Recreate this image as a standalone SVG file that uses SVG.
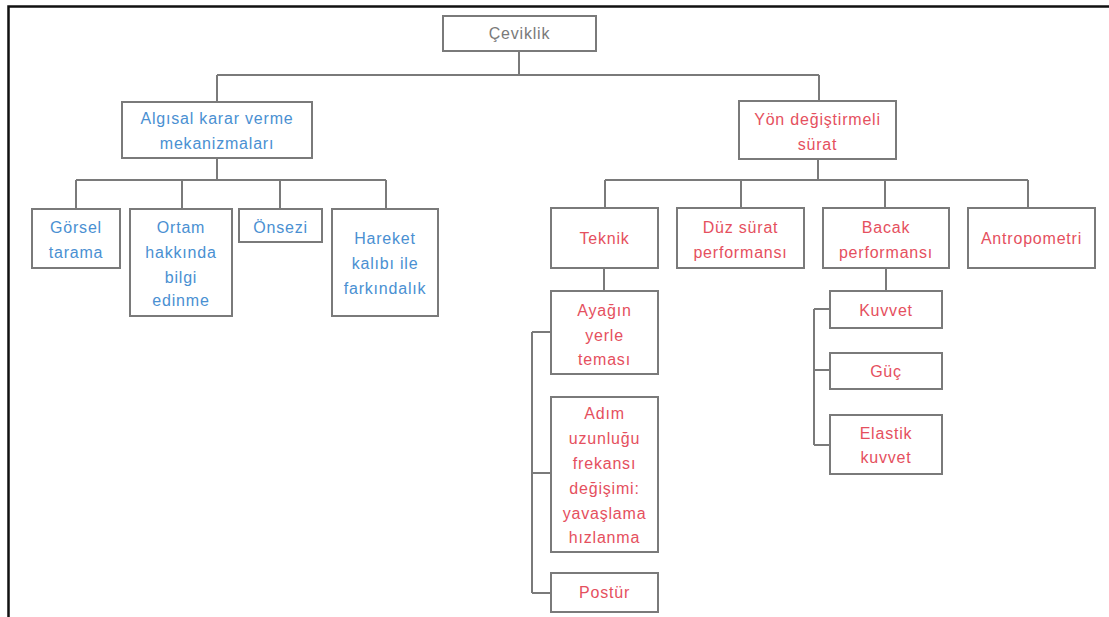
<svg xmlns="http://www.w3.org/2000/svg" width="1109" height="617" viewBox="0 0 1109 617">
<style>
.box{fill:#fff;stroke:#7a7a7a;stroke-width:2}
.con{fill:none;stroke:#7a7a7a;stroke-width:2}
text{font-family:"Liberation Sans",Arial,sans-serif;font-size:16px;letter-spacing:0.8px;text-anchor:middle;dominant-baseline:central}
.root{fill:#7a7a7a}
.blue{fill:#4a90d2}
.red{fill:#e5505e}
</style>
<rect width="1109" height="617" fill="#fff"/>
<path d="M8.5 617 V6.5 H1109" fill="none" stroke="#111" stroke-width="2.5"/>
<g id="connectors" class="con">
<path d="M519 51 V75 M217 75 H819 M217 75 V102 M819 75 V101"/>
<path d="M217 158 V180 M76 180 H386 M76 180 V209 M182 180 V209 M280 180 V209 M386 180 V209"/>
<path d="M818 159 V180 M605 180 H1028 M605 180 V208 M741 180 V208 M885 180 V208 M1028 180 V208"/>
<path d="M604 268 V291 M532 332 V593 M532 332 H551 M532 473 H551 M532 593 H551"/>
<path d="M886 268 V291 M814 309 V445 M814 309 H830 M814 370 H830 M814 445 H830"/>
</g>
<g id="ceviklik"><rect class="box" x="443" y="16" width="153" height="35"/><text class="root" x="519.5" y="33">Çeviklik</text></g>
<g id="algisal"><rect class="box" x="122" y="102" width="190" height="56"/><text class="blue" x="217" y="118">Algısal karar verme</text><text class="blue" x="217" y="143">mekanizmaları</text></g>
<g id="yon"><rect class="box" x="739" y="101" width="157" height="58"/><text class="red" x="817.5" y="119">Yön değiştirmeli</text><text class="red" x="817.5" y="144">sürat</text></g>
<g id="gorsel"><rect class="box" x="32" y="209" width="88" height="59"/><text class="blue" x="76" y="227">Görsel</text><text class="blue" x="76" y="252">tarama</text></g>
<g id="ortam"><rect class="box" x="130" y="209" width="102" height="107"/><text class="blue" x="181" y="227">Ortam</text><text class="blue" x="181" y="252">hakkında</text><text class="blue" x="181" y="277">bilgi</text><text class="blue" x="181" y="300">edinme</text></g>
<g id="onsezi"><rect class="box" x="239" y="209" width="83" height="33"/><text class="blue" x="280.5" y="227">Önsezi</text></g>
<g id="hareket"><rect class="box" x="332" y="209" width="106" height="107"/><text class="blue" x="385" y="238">Hareket</text><text class="blue" x="385" y="263">kalıbı ile</text><text class="blue" x="385" y="288">farkındalık</text></g>
<g id="teknik"><rect class="box" x="551" y="208" width="107" height="60"/><text class="red" x="604.5" y="238">Teknik</text></g>
<g id="duz"><rect class="box" x="677" y="208" width="127" height="60"/><text class="red" x="740.5" y="227">Düz sürat</text><text class="red" x="740.5" y="252">performansı</text></g>
<g id="bacak"><rect class="box" x="823" y="208" width="126" height="60"/><text class="red" x="886" y="227">Bacak</text><text class="red" x="886" y="252">performansı</text></g>
<g id="antropometri"><rect class="box" x="968" y="208" width="127" height="60"/><text class="red" x="1031.5" y="238">Antropometri</text></g>
<g id="ayagin"><rect class="box" x="551" y="291" width="107" height="83"/><text class="red" x="604.5" y="310">Ayağın</text><text class="red" x="604.5" y="335">yerle</text><text class="red" x="604.5" y="359">teması</text></g>
<g id="adim"><rect class="box" x="551" y="397" width="107" height="155"/><text class="red" x="604.5" y="413">Adım</text><text class="red" x="604.5" y="438">uzunluğu</text><text class="red" x="604.5" y="463">frekansı</text><text class="red" x="604.5" y="488">değişimi:</text><text class="red" x="604.5" y="513">yavaşlama</text><text class="red" x="604.5" y="537">hızlanma</text></g>
<g id="postur"><rect class="box" x="551" y="573" width="107" height="39"/><text class="red" x="604.5" y="592">Postür</text></g>
<g id="kuvvet"><rect class="box" x="830" y="291" width="112" height="37"/><text class="red" x="886" y="310">Kuvvet</text></g>
<g id="guc"><rect class="box" x="830" y="353" width="112" height="36"/><text class="red" x="886" y="371">Güç</text></g>
<g id="elastik"><rect class="box" x="830" y="415" width="112" height="59"/><text class="red" x="886" y="433">Elastik</text><text class="red" x="886" y="457">kuvvet</text></g>
</svg>
